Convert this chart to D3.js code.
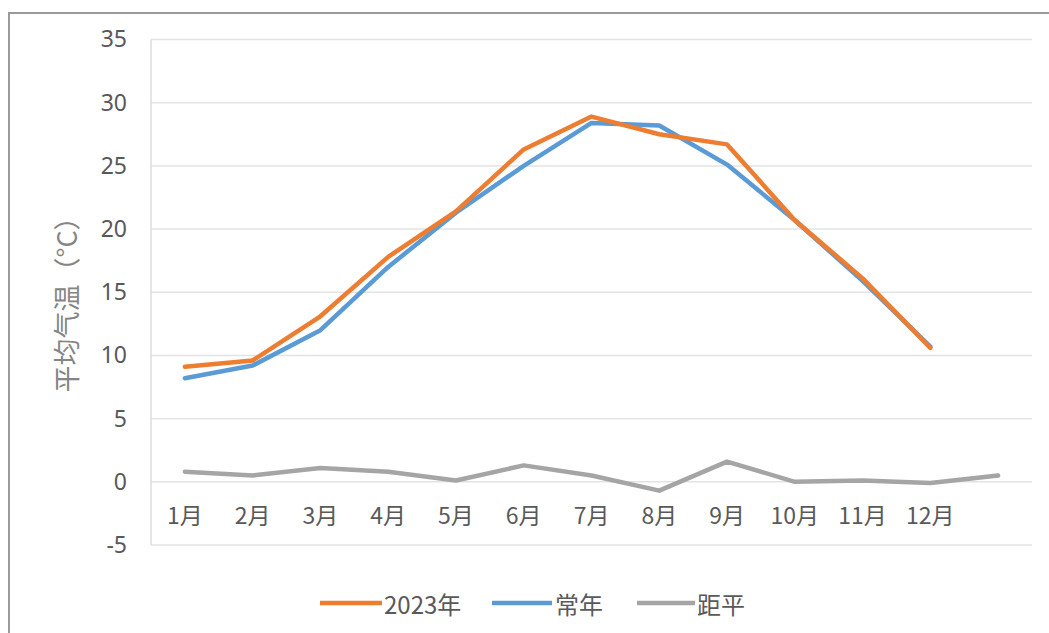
<!DOCTYPE html>
<html><head><meta charset="utf-8">
<script src="https://cdn.jsdelivr.net/npm/d3@7"></script>
<style>
html,body{margin:0;padding:0;background:#fff;}
svg{display:block;}
text{font-family:"Noto Sans CJK SC","Noto Sans",sans-serif;}
</style></head>
<body>
<svg id="chart" width="1049" height="633"></svg>
<script>
const categories = ["1月","2月","3月","4月","5月","6月","7月","8月","9月","10月","11月","12月",""];
const series2023 = [9.1, 9.6, 13.1, 17.8, 21.4, 26.3, 28.9, 27.5, 26.7, 20.7, 16.1, 10.6];
const seriesNormal = [8.2, 9.2, 12.0, 17.0, 21.3, 25.0, 28.4, 28.2, 25.1, 20.7, 15.9, 10.7];
const seriesAnomaly = [0.8, 0.5, 1.1, 0.8, 0.1, 1.3, 0.5, -0.7, 1.6, 0.0, 0.1, -0.1, 0.5];
const yTicks = [-5, 0, 5, 10, 15, 20, 25, 30, 35];
const seriesNames = ["2023年", "常年", "距平"];
const colors = ["#ED7D31", "#5B9BD5", "#A5A5A5"];

(function () {
const svg = d3.select("#chart");
// outer chart border
svg.append("rect").attr("x", 9).attr("y", 13).attr("width", 1060).attr("height", 640)
  .attr("fill", "none").attr("stroke", "#9a9a9a").attr("stroke-width", 2);

const pL = 151, pR = 1032, pT = 39.5, pB = 545;
const x = d3.scaleBand().domain(categories).range([pL, pR]);
const y = d3.scaleLinear().domain([-5, 35]).range([pB, pT]);

// gridlines
svg.append("g").selectAll("line").data(yTicks).join("line")
  .attr("x1", pL).attr("x2", pR)
  .attr("y1", d => y(d)).attr("y2", d => y(d))
  .attr("stroke", "#e3e3e3").attr("stroke-width", 1.5);
// y axis line
svg.append("line").attr("x1", pL).attr("x2", pL).attr("y1", pT).attr("y2", pB)
  .attr("stroke", "#dcdcdc").attr("stroke-width", 1.5);

// y tick labels
const yAxis = d3.axisLeft(y).tickValues(yTicks).tickFormat(d => String(d)).tickSize(0).tickPadding(24);
const gy = svg.append("g").attr("transform", `translate(${pL},0)`).call(yAxis);
gy.select(".domain").remove();
gy.selectAll("text").attr("font-size", 23).attr("fill", "#595959")
  .style("font-family", "'Noto Sans','Noto Sans CJK SC',sans-serif");

// x labels placed below the zero line
const xAxis = d3.axisBottom(x).tickSize(0).tickPadding(26);
const gx = svg.append("g").attr("transform", `translate(0,${y(0)})`).call(xAxis);
gx.select(".domain").remove();
gx.selectAll("text").attr("font-size", 23).attr("fill", "#595959");

// y title
svg.append("text").attr("transform", `translate(65,298) rotate(-90)`)
  .attr("text-anchor", "middle").attr("dominant-baseline", "central")
  .attr("font-size", 27).attr("fill", "#858585").text("平均气温（°C）");

const cx = (d, i) => x(categories[i]) + x.bandwidth() / 2;
const line = d3.line().x((d, i) => cx(d, i)).y(d => y(d));
const data = [series2023, seriesNormal, seriesAnomaly];
const order = [2, 1, 0];
order.forEach(k => {
  svg.append("path").datum(data[k]).attr("d", line)
    .attr("fill", "none").attr("stroke", colors[k]).attr("stroke-width", 4.5)
    .attr("stroke-linejoin", "round").attr("stroke-linecap", "round");
});

// legend
const legendItems = [
  {x1: 320, x2: 382, tx: 384},
  {x1: 492, x2: 552, tx: 555},
  {x1: 637, x2: 695, tx: 697}
];
const lg = svg.append("g");
legendItems.forEach((it, i) => {
  lg.append("line").attr("x1", it.x1).attr("x2", it.x2).attr("y1", 603).attr("y2", 603)
    .attr("stroke", colors[i]).attr("stroke-width", 4.5);
  lg.append("text").attr("x", it.tx).attr("y", 603).attr("dominant-baseline", "central")
    .attr("font-size", 24).attr("fill", "#595959").text(seriesNames[i]);
});
})();
</script>
</body></html>
